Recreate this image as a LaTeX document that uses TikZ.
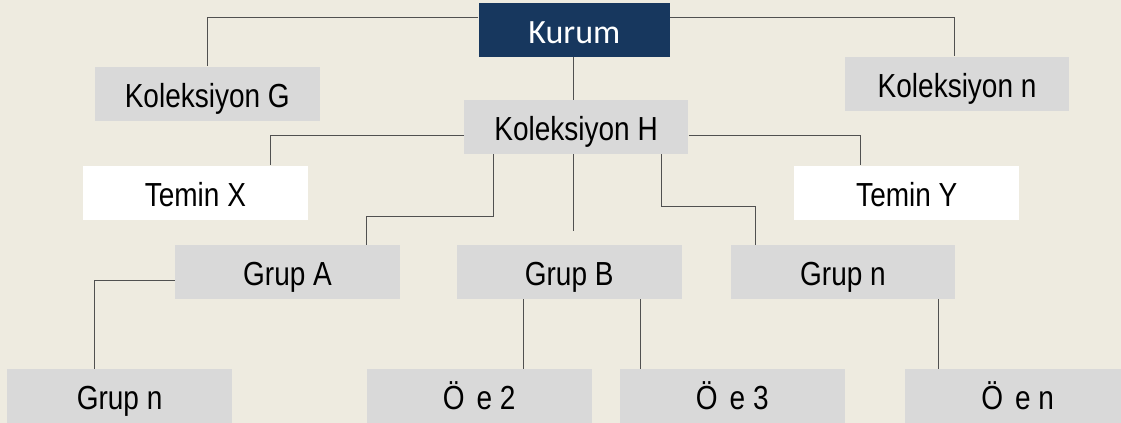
\documentclass[tikz,border=0pt]{standalone}
\usepackage{fontspec}
\setmainfont{Liberation Sans}[FakeStretch=0.84]
\newfontfamily\kurumfont{Carlito}
\definecolor{mbg}{HTML}{EEEBE0}
\definecolor{mgray}{HTML}{D9D9D9}
\definecolor{mnavy}{HTML}{17375E}
\definecolor{mline}{HTML}{505050}
\tikzset{box/.style = {fill=mgray, inner sep=0, minimum width=168.5pt, minimum height=40.5pt,
    text height=20.4pt, text depth=0pt, font=\fontsize{25}{30}\selectfont}}
\tikzset{wbox/.style = {box, fill=white}}
\tikzset{topbox/.style = {box, fill=mnavy, text=white, minimum width=143.5pt,
    font=\kurumfont\fontsize{25.5}{30}\selectfont}}
\tikzset{link/.style = {draw=mline, line width=0.7pt}}

\begin{document}
\begin{tikzpicture}[x=0.75pt, y=-0.75pt]
      \fill [mbg] (0, 0) rectangle (1121, 423);
      \useasboundingbox (0, 0) rectangle (1121, 423);

      \node [topbox] (kurum) at (574.3, 29.7) {Kurum};
      \node [box] (kolG) at (207.3, 93.7) {Koleksiyon G};
      \node [box] (kolH) at (576.1, 127) {Koleksiyon H};
      \node [box] (kolN) at (957.1, 83.7) {Koleksiyon n};
      \node [wbox] (teminX) at (195.4, 192.7) {Temin X};
      \node [wbox] (teminY) at (906.8, 192.7) {Temin Y};
      \node [box] (grupA) at (287.5, 272) {Grup A};
      \node [box] (grupB) at (569.2, 272) {Grup B};
      \node [box] (grupN) at (843, 272) {Grup n};
      \node [box] (grupAN) at (119.6, 396) {Grup n};
      \node [box] (oge2) at (479.2, 396) {Ö\hspace{9pt}e 2};
      \node [box] (oge3) at (732.3, 396) {Ö\hspace{9pt}e 3};
      \node [box] (ogeN) at (1017.7, 396) {Ö\hspace{9pt}e n};

      \coordinate (gapEnd) at (573.2, 231);

      % top level
      \draw [link] ([yshift=9.3pt]kurum.west) -| (kolG.north);
      \draw [link] ([yshift=9.3pt]kurum.east) -| ([xshift=-1.9pt]kolN.north);
      \draw [link] ([xshift=-0.8pt]kurum.south) -- ([xshift=-0.8pt]kurum.south |- kolH.north);

      % Koleksiyon H
      \draw [link] ([yshift=-6pt]kolH.west) -| ([xshift=56.2pt]teminX.north);
      \draw [link] ([yshift=-6pt]kolH.east) -| ([xshift=-34.6pt]teminY.north);
      \draw [link] ([xshift=-62.2pt]kolH.south) -- ++(0, 62.7) -| ([xshift=59.5pt]grupA.north);
      \draw [link] (gapEnd |- kolH.south) -- (gapEnd);
      \draw [link] ([xshift=64.3pt]kolH.south) -- ++(0, 52.7) -| ([xshift=-65.5pt]grupN.north);

      % groups
      \draw [link] ([yshift=-6pt]grupA.west) -| ([xshift=-18.5pt]grupAN.north);
      \draw [link] ([xshift=-34.5pt]grupB.south) -- ([xshift=-34.5pt]grupB.south |- oge2.north);
      \draw [link] ([xshift=53.6pt]grupB.south) -- ([xshift=53.6pt]grupB.south |- oge3.north);
      \draw [link] ([xshift=71.7pt]grupN.south) -- ([xshift=71.7pt]grupN.south |- ogeN.north);
    \end{tikzpicture}
\end{document}
